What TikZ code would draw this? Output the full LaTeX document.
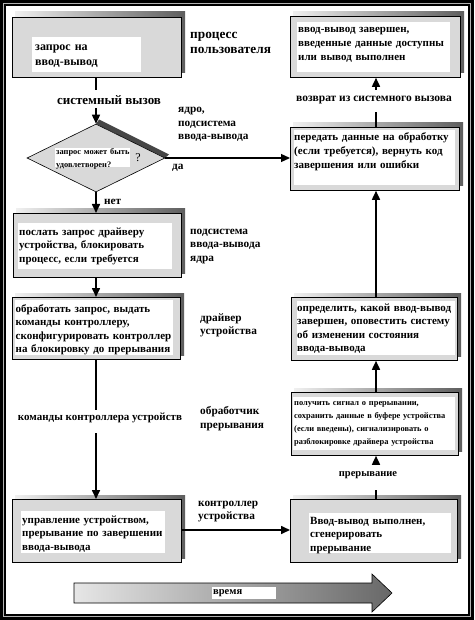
\documentclass[tikz,border=0pt]{standalone}
\usepackage{fontspec}
\setmainfont{Liberation Serif}
\usetikzlibrary{shapes.geometric,arrows.meta}
\definecolor{boxgrey}{HTML}{D9D9D9}
\definecolor{shlight}{HTML}{F0F0F0}
\definecolor{shdark}{HTML}{5E5E5E}
\definecolor{tmlight}{HTML}{E6E6E6}
\definecolor{tmdark}{HTML}{686868}
\tikzset{
  iobox/.style args={#1/#2}{draw=black, line width=0.8pt, fill=boxgrey, inner sep=0pt,
     anchor=north west, minimum width=#1pt, minimum height=#2pt},
  btxt/.style={inner sep=0pt, anchor=base west, align=left, text width=175pt,
     font=\fontsize{11}{13.6}\selectfont\bfseries},
  stxt/.style={inner sep=0pt, anchor=base west, align=left, text width=175pt,
     font=\fontsize{8.4}{13}\selectfont\bfseries},
  lbl/.style={inner sep=0pt, anchor=base west, align=left, text width=100pt,
     font=\fontsize{11.3}{13.5}\selectfont\bfseries},
  conn/.style={line width=1.6pt, draw=black},
  arr/.style={conn, -{Triangle[length=9pt,width=8pt]}},
}
\begin{document}
\begin{tikzpicture}[x=1pt,y=-1pt]
\useasboundingbox (0,0) rectangle (474,620);
% frame
\fill[black] (0,0) rectangle (474,620);
\fill[white] (6,6) rectangle (468,614);
\draw[gray!60, line width=0.8pt] (3.8,3.8) rectangle (470.2,616.2);

% ---- B1: user request
\shade[left color=shlight, right color=shdark] (15,12) rectangle (185,73);
\node[iobox=169/60] (b1) at (12,17) {};
\fill[white] (32,37) rectangle (141,72);
\node[btxt, font=\fontsize{12}{15.5}\selectfont\bfseries] (t1) at (35,50.5) {запрос на\\ввод-вывод};
\node[lbl, font=\fontsize{13.3}{15}\selectfont\bfseries] (l1) at (190,38.5) {процесс\\пользователя};

% system call label
\node[inner sep=0pt, font=\fontsize{13}{15}\selectfont\bfseries] (lsys) at (109,100) {системный вызов};
\coordinate (s1) at (96,90);
\coordinate (s2) at (96,108);

% ---- diamond
\fill[gray!55!black] (96,124) -- (99,119.5) -- (169,154.5) -- (165,158) -- cycle;
\node[diamond, draw=black, line width=0.6pt, fill=boxgrey, inner sep=0pt,
      minimum width=138pt, minimum height=68pt] (d) at (96,158) {};
\fill[white] (55,148) rectangle (130,167);
\node[stxt] (td) at (56,154.5) {запрос может быть\\удовлетворен?};
\node[inner sep=0pt, font=\fontsize{12}{14}\selectfont] (tq) at (138,158) {?};
\node[lbl] (l2) at (178,113) {ядро,\\подсистема\\ввода-вывода};
\node[lbl] (lda) at (172,170) {да};
\node[lbl] (lnet) at (104,204.5) {нет};

% ---- B2
\shade[left color=shlight, right color=shdark] (16,209) rectangle (185,273);
\node[iobox=168/64] (b2) at (13,213) {};
\fill[white] (18,223) rectangle (172,269);
\node[btxt] (t2) at (19,235) {послать запрос драйверу\\устройства, блокировать\\процесс, если требуется};
\node[lbl] (l3) at (190,234) {подсистема\\ввода-вывода\\ядра};

% ---- B3
\shade[left color=shlight, right color=shdark] (15,293) rectangle (184,355);
\node[iobox=168/62] (b3) at (12,297) {};
\fill[white] (15,300) rectangle (173,355);
\node[btxt] (t3) at (15.5,312) {обработать запрос, выдать\\команды контроллеру,\\сконфигурировать контроллер\\на блокировку до прерывания};
\node[lbl] (l4) at (200,321) {драйвер\\устройства};

% commands label
\node[inner sep=0pt, font=\fontsize{11}{13}\selectfont\bfseries] (lcmd) at (100,418) {команды контроллера устройств};
\coordinate (c1) at (96,410);
\coordinate (c2) at (96,433);
\node[lbl] (l5) at (200,414.5) {обработчик\\прерывания};

% ---- B4
\shade[left color=shlight, right color=shdark] (15,495) rectangle (185,558);
\node[iobox=169/63] (b4) at (12,499) {};
\fill[white] (21,511) rectangle (165,553);
\node[btxt] (t4) at (22,523) {управление устройством,\\прерывание по завершении\\ввода-вывода};
\node[lbl] (l6) at (198,506) {контроллер\\устройства};

% ---- B5
\shade[left color=shlight, right color=shdark] (293,495) rectangle (461,558);
\node[iobox=167/63] (b5) at (290,499) {};
\fill[white] (309,513) rectangle (451,553);
\node[btxt] (t5) at (310,524) {Ввод-вывод выполнен,\\сгенерировать\\прерывание};

% interrupt label
\node[inner sep=0pt, font=\fontsize{10.5}{12}\selectfont\bfseries] (lint) at (368,475) {прерывание};
\coordinate (i1) at (376,490);
\coordinate (i2) at (376,465);

% ---- B6
\shade[left color=shlight, right color=shdark] (294,388) rectangle (462,451);
\node[iobox=167/63] (b6) at (291,392) {};
\fill[white] (293,397) rectangle (455,450);
\node[stxt] (t6) at (294,405.5) {получить сигнал о прерывании,\\сохранить данные в буфере устройства\\(если введены), сигнализировать о\\разблокировке драйвера устройства};

% ---- B7
\shade[left color=shlight, right color=shdark] (294,293) rectangle (461,356);
\node[iobox=166/63] (b7) at (291,297) {};
\fill[white] (297,301) rectangle (455,355);
\node[btxt] (t7) at (297,311) {определить, какой ввод-вывод\\завершен, оповестить систему\\об изменении состояния\\ввода-вывода};

% ---- B8
\shade[left color=shlight, right color=shdark] (293,123) rectangle (463,186);
\node[iobox=169/63] (b8) at (290,127) {};
\fill[white] (294,130) rectangle (455,185);
\node[btxt] (t8) at (294,141) {передать данные на обработку\\(если требуется), вернуть код\\завершения или ошибки};

% return label
\node[inner sep=0pt, font=\fontsize{11.5}{12}\selectfont\bfseries] (lret) at (374,100) {возврат из системного вызова};
\coordinate (r1) at (376,112);
\coordinate (r2) at (376,90);

% ---- B9
\shade[left color=shlight, right color=shdark] (293,12) rectangle (464,73);
\node[iobox=170/61] (b9) at (290,16) {};
\fill[white] (297,22) rectangle (450,72);
\node[btxt] (t9) at (298,33) {ввод-вывод завершен,\\введенные данные доступны\\или вывод выполнен};

% ---- connectors
\draw[conn] (b1.south -| s1) -- (s1);
\draw[arr] (s2) -- (d.north);
\draw[conn, -{Triangle[length=9pt,width=8pt]}, line width=1.2pt] (d.east) -- (d.east -| b8.west);
\draw[arr] (d.south) -- (b2.north -| d.south);
\draw[arr] (b2.south -| s1) -- (b3.north -| s1);
\draw[conn] (b3.south -| c1) -- (c1);
\draw[arr] (c2) -- (b4.north -| c2);
\draw[arr] (b4.east |- 0,530) -- (b5.west |- 0,530);
\draw[conn] (b5.north -| i1) -- (i1);
\draw[arr] (i2) -- (b6.south -| i2);
\draw[arr] (b6.north -| i2) -- (b7.south -| i2);
\draw[arr] (b7.north -| i2) -- (b8.south -| i2);
\draw[conn] (b8.north -| r1) -- (r1);
\draw[arr] (r2) -- (b9.south -| r2);

% ---- time arrow
\shade[left color=tmlight, right color=tmdark, draw=black, line width=0.6pt]
  (74,583) -- (372,583) -- (372,574) -- (392,593) -- (372,612) -- (372,603) -- (74,603) -- cycle;
\fill[white] (212,587) rectangle (276,599);
\node[inner sep=0pt, anchor=west, font=\fontsize{10.5}{12}\selectfont\bfseries] (ltime) at (213,593) {время};
\end{tikzpicture}
\end{document}
